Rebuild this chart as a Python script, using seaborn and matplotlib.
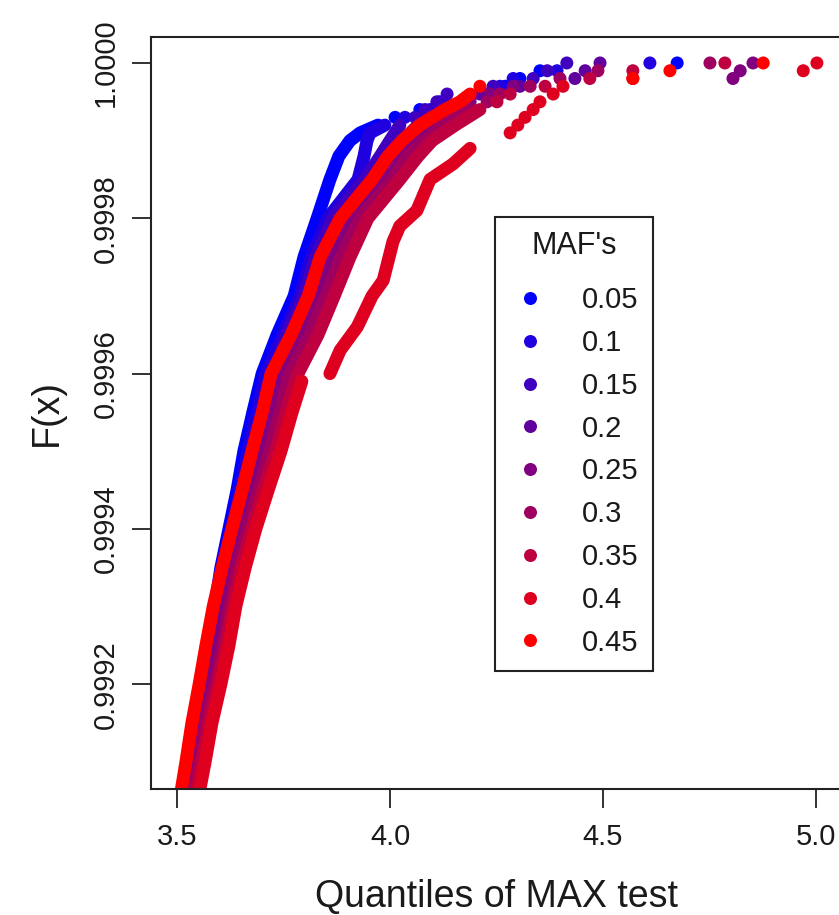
import matplotlib
matplotlib.use("Agg")
import matplotlib.pyplot as plt
import seaborn as sns
import pandas as pd
from matplotlib.lines import Line2D

# ---------------- data ----------------
mafs = ["0.05", "0.1", "0.15", "0.2", "0.25", "0.3", "0.35", "0.4", "0.45"]
colors = ["#0000FF", "#2000DF", "#4000BF", "#60009F", "#80007F",
          "#9F0060", "#BF0040", "#DF0020", "#FF0000"]

# common lower F levels of the empirical CDF
F_low = [0.99906, 0.99910, 0.99915, 0.99920, 0.99925, 0.99930, 0.99935,
         0.99940, 0.99945, 0.99950, 0.99955, 0.99960, 0.99965, 0.99970,
         0.99975, 0.99980, 0.99985, 0.99988, 0.99990]

# MAF 0.05
f05 = F_low + [0.99991, 0.99992]
x05 = [3.512, 3.526, 3.540, 3.556, 3.573, 3.589, 3.603, 3.622, 3.641, 3.657,
       3.678, 3.700, 3.735, 3.775, 3.798, 3.829, 3.859, 3.880, 3.906, 3.930, 3.972]
tf05 = [0.99993, 0.99994, 0.99995, 0.99996, 0.99997, 0.99998, 0.99999, 1.0]
tx05 = [4.012, 4.070, 4.117, 4.235, 4.270, 4.305, 4.352, 4.674]

# MAF 0.1
f10 = F_low + [0.99991, 0.99992]
x10 = [3.516, 3.528, 3.542, 3.559, 3.577, 3.594, 3.608, 3.629, 3.648, 3.667,
       3.688, 3.709, 3.749, 3.789, 3.815, 3.854, 3.925, 3.939, 3.946, 3.953, 3.988]
tf10 = [0.99993, 0.99994, 0.99995, 0.99996, 0.99997, 0.99998, 0.99999, 1.0]
tx10 = [4.035, 4.094, 4.129, 4.228, 4.258, 4.289, 4.392, 4.610]

# MAF 0.15
f15 = F_low + [0.99991, 0.99992]
x15 = [3.521, 3.535, 3.549, 3.568, 3.585, 3.601, 3.620, 3.641, 3.662, 3.683,
       3.707, 3.728, 3.758, 3.798, 3.826, 3.866, 3.941, 3.977, 4.000, 4.012, 4.023]
tf15 = [0.99993, 0.99994, 0.99995, 0.99996, 0.99997, 0.99998, 0.99999, 1.0]
tx15 = [4.059, 4.082, 4.110, 4.134, 4.242, 4.336, 4.369, 4.415]

# MAF 0.2
f20 = F_low + [0.99992, 0.99993]
x20 = [3.528, 3.542, 3.556, 3.575, 3.592, 3.608, 3.629, 3.650, 3.674, 3.697,
       3.721, 3.742, 3.784, 3.822, 3.852, 3.901, 3.972, 4.007, 4.030, 4.066, 4.094]
tf20 = [0.99994, 0.99995, 0.99996, 0.99997, 0.99998, 0.99999, 1.0]
tx20 = [4.134, 4.171, 4.211, 4.305, 4.434, 4.458, 4.493]

# MAF 0.25
f25 = F_low + [0.99992, 0.99994]
x25 = [3.535, 3.547, 3.563, 3.582, 3.601, 3.617, 3.636, 3.660, 3.683, 3.709,
       3.732, 3.754, 3.798, 3.836, 3.869, 3.915, 3.988, 4.023, 4.052, 4.094, 4.153]
tf25 = [0.99995, 0.99996, 0.99997, 0.99998, 0.99999, 1.0]
tx25 = [4.188, 4.235, 4.289, 4.805, 4.822, 4.852]

# MAF 0.3
f30 = F_low + [0.99992, 0.99994]
x30 = [3.540, 3.554, 3.568, 3.589, 3.608, 3.624, 3.643, 3.667, 3.692, 3.718,
       3.742, 3.765, 3.812, 3.850, 3.885, 3.930, 4.005, 4.042, 4.082, 4.129, 4.188]
tf30 = [0.99995, 0.99996, 0.99997, 0.99998, 0.99999, 1.0]
tx30 = [4.228, 4.258, 4.329, 4.399, 4.488, 4.751]

# MAF 0.35
f35 = F_low + [0.99992, 0.99994]
x35 = [3.545, 3.559, 3.575, 3.596, 3.615, 3.631, 3.650, 3.676, 3.702, 3.732,
       3.756, 3.784, 3.831, 3.869, 3.906, 3.948, 4.023, 4.066, 4.099, 4.153, 4.211]
tf35 = [0.99995, 0.99996, 0.99997, 0.99998, 0.99999, 1.0]
tx35 = [4.251, 4.282, 4.364, 4.469, 4.570, 4.786]

# MAF 0.4 (two pieces: lower band, then the detached right-hand curve)
f40a = F_low[:11] + [0.99959]
x40a = [3.552, 3.566, 3.582, 3.603, 3.622, 3.638, 3.660, 3.685, 3.714, 3.744,
        3.770, 3.793]
f40b = [0.99960, 0.99963, 0.99966, 0.99970, 0.99972, 0.99977, 0.99979,
        0.99981, 0.99985, 0.99987, 0.99989]
x40b = [3.859, 3.883, 3.923, 3.958, 3.984, 4.007, 4.023, 4.063, 4.094, 4.148, 4.188]
tf40 = [0.99991, 0.99992, 0.99993, 0.99994, 0.99995, 0.99996, 0.99997,
        0.99998, 0.99999, 1.0]
tx40 = [4.282, 4.300, 4.317, 4.336, 4.352, 4.383, 4.406, 4.570, 4.970, 5.002]

# MAF 0.45
f45 = F_low + [0.99992, 0.99994, 0.99995, 0.99996]
x45 = [3.509, 3.521, 3.535, 3.552, 3.568, 3.585, 3.606, 3.629, 3.653, 3.676,
       3.700, 3.721, 3.768, 3.808, 3.836, 3.883, 3.958, 3.995, 4.028, 4.070,
       4.129, 4.164, 4.188]
tf45 = [0.99997, 0.99998, 0.99999, 1.0]
tx45 = [4.211, 4.570, 4.657, 4.876]

x_ticks = [3.5, 4.0, 4.5, 5.0]
y_ticks = [0.9992, 0.9994, 0.9996, 0.9998, 1.0000]

# ---------------- tables ----------------
bands = [("0.05", "a", f05, x05), ("0.1", "a", f10, x10), ("0.15", "a", f15, x15),
         ("0.2", "a", f20, x20), ("0.25", "a", f25, x25), ("0.3", "a", f30, x30),
         ("0.35", "a", f35, x35), ("0.4", "a", f40a, x40a), ("0.4", "b", f40b, x40b),
         ("0.45", "a", f45, x45)]
tails = [("0.05", tf05, tx05), ("0.1", tf10, tx10), ("0.15", tf15, tx15),
         ("0.2", tf20, tx20), ("0.25", tf25, tx25), ("0.3", tf30, tx30),
         ("0.35", tf35, tx35), ("0.4", tf40, tx40), ("0.45", tf45, tx45)]

band_df = pd.concat([pd.DataFrame({"maf": m, "seg": m + s, "x": xs, "F": fs})
                     for m, s, fs, xs in bands], ignore_index=True)
tail_df = pd.concat([pd.DataFrame({"maf": m, "x": xs, "F": fs})
                     for m, fs, xs in tails], ignore_index=True)

palette = dict(zip(mafs, colors))

# ---------------- figure ----------------
sns.set_theme(style="white")
plt.rcParams["font.family"] = ["Liberation Sans", "DejaVu Sans"]

DPI = 100
fig = plt.figure(figsize=(839 / DPI, 915 / DPI), dpi=DPI)
ax = fig.add_axes([0.1805, 0.1377, 0.8226, 0.8219])

dot_px = 13
lw_pt = dot_px * 72 / DPI

sns.lineplot(data=band_df, x="x", y="F", hue="maf", hue_order=mafs,
             units="seg", estimator=None, sort=False, palette=palette,
             linewidth=lw_pt, solid_capstyle="round", solid_joinstyle="round",
             legend=False, ax=ax)
sns.scatterplot(data=tail_df, x="x", y="F", hue="maf", hue_order=mafs,
                palette=palette, s=lw_pt ** 2, linewidth=0, legend=False, ax=ax)

ax.set_xlim(3.44, 5.06)
ax.set_ylim(0.999065, 1.0000335)
ax.set_xticks(x_ticks)
ax.set_xticklabels([f"{v:.1f}" for v in x_ticks])
ax.set_yticks(y_ticks)
ax.set_yticklabels([f"{v:.4f}" for v in y_ticks])

txt = "#1a1a1a"
for sp in ax.spines.values():
    sp.set_visible(True)
    sp.set_color("#222222")
    sp.set_linewidth(1.5)
ax.tick_params(axis="both", which="major", direction="out", length=13.5,
               width=1.3, color="#222222", labelsize=21, labelcolor=txt,
               left=True, bottom=True)
ax.tick_params(axis="x", pad=11)
ax.tick_params(axis="y", pad=9)
for lab in ax.get_yticklabels():
    lab.set_rotation(90)
    lab.set_va("center")

ax.set_xlabel("Quantiles of MAX test", fontsize=27, color=txt, labelpad=20)
ax.set_ylabel("F(x)", fontsize=27, color=txt, labelpad=20)

handles = [Line2D([], [], linestyle="", marker="o", markersize=lw_pt,
                  markerfacecolor=c, markeredgewidth=0) for c in colors]
leg = ax.legend(handles, mafs, title="MAF's", loc="upper left",
                bbox_to_anchor=(0.498, 0.761), frameon=True, fancybox=False,
                fontsize=21, title_fontsize=22, borderpad=0.5,
                handlelength=1.4, handletextpad=1.08, labelspacing=0.507,
                borderaxespad=0)
leg._legend_box.sep = 18.0
frame = leg.get_frame()
frame.set_edgecolor("#222222")
frame.set_linewidth(1.5)
frame.set_facecolor("white")
frame.set_alpha(1)
for t in leg.get_texts():
    t.set_color(txt)
leg.get_title().set_color(txt)

fig.savefig("out.png", dpi=DPI, facecolor="white")
